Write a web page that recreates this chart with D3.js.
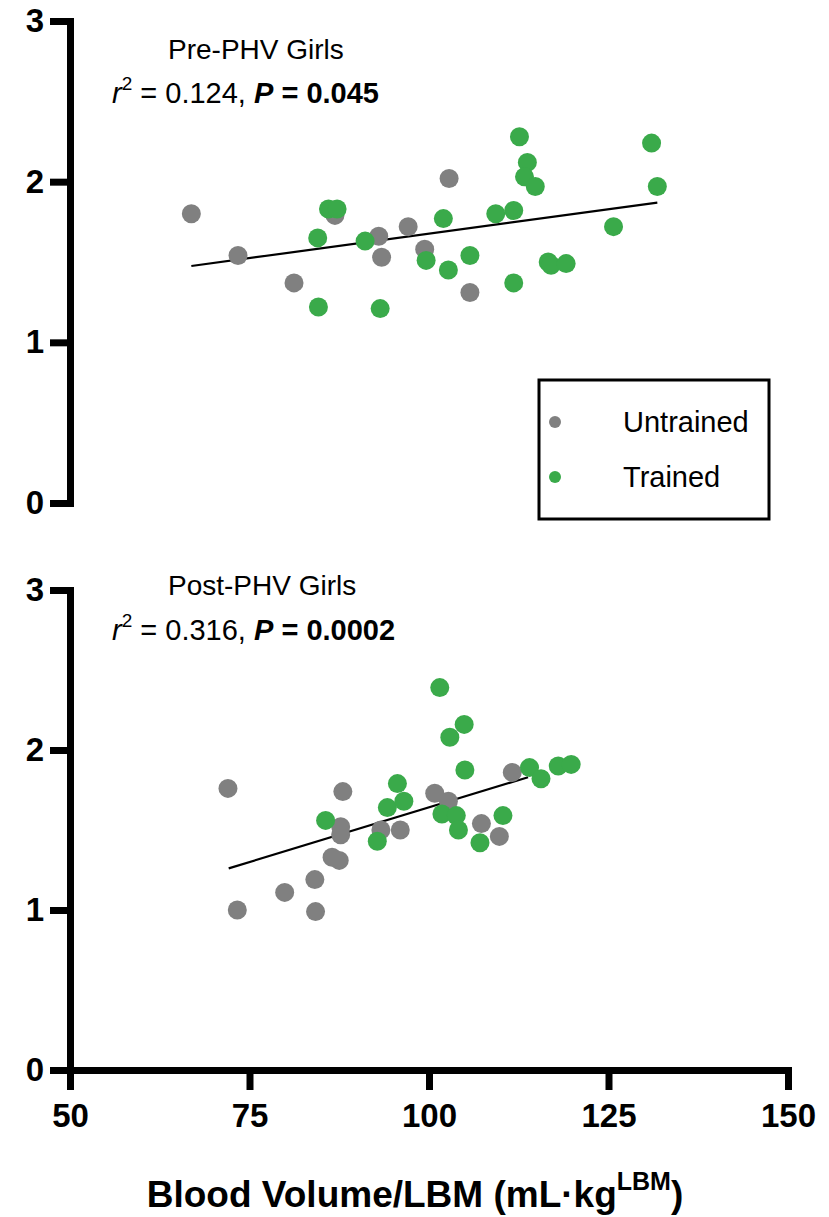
<!DOCTYPE html>
<html>
<head>
<meta charset="utf-8">
<script src="https://cdn.jsdelivr.net/npm/d3@7"></script>
<style>
  body { margin: 0; background: #fff; }
  text { font-family: "Liberation Sans", Arial, sans-serif; }
</style>
</head>
<body>
<div id="chart"></div>
<script>
// Pre-PHV girls: [blood volume/LBM, y value]
const preUntrained = [
  [66.9, 1.80], [73.4, 1.54], [81.2, 1.37], [86.9, 1.79], [93.0, 1.66],
  [93.4, 1.53], [97.1, 1.72], [99.4, 1.58], [102.8, 2.02], [105.7, 1.31]
];
const preTrained = [
  [84.6, 1.22], [84.5, 1.65], [86.0, 1.83], [87.2, 1.83], [91.1, 1.63],
  [93.2, 1.21], [99.6, 1.51], [102.0, 1.77], [102.7, 1.45], [105.7, 1.54],
  [109.3, 1.80], [111.8, 1.82], [111.8, 1.37], [112.6, 2.28], [113.7, 2.12],
  [113.3, 2.03], [114.8, 1.97], [116.6, 1.50], [117.0, 1.48], [119.1, 1.49],
  [125.7, 1.72], [131.0, 2.24], [131.8, 1.97]
];
const preFit = [[66.9, 1.475], [131.8, 1.87]];

// Post-PHV girls
const postUntrained = [
  [72.0, 1.76], [73.3, 1.00], [79.9, 1.11], [84.1, 1.19], [84.2, 0.99],
  [86.5, 1.33], [87.5, 1.31], [87.7, 1.52], [87.7, 1.47], [88.0, 1.74],
  [93.3, 1.50], [96.0, 1.50], [100.8, 1.73], [102.7, 1.68], [107.3, 1.54],
  [109.8, 1.46], [111.6, 1.86]
];
const postTrained = [
  [85.6, 1.56], [92.8, 1.43], [94.2, 1.64], [95.6, 1.79], [96.5, 1.68],
  [101.5, 2.39], [102.9, 2.08], [104.9, 2.16], [105.0, 1.875], [101.8, 1.60],
  [103.8, 1.59], [104.1, 1.50], [107.1, 1.42], [110.3, 1.59], [114.0, 1.89],
  [115.6, 1.82], [118.0, 1.90], [119.8, 1.91]
];
const postFit = [[72.1, 1.26], [113.8, 1.83]];

const xTicks = [50, 75, 100, 125, 150];
const yTicks = [0, 1, 2, 3];
const legendLabels = ["Untrained", "Trained"];

const width = 829;
const height = 1217;
const grey = "#808080";
const green = "#3aaa4a";

const svg = d3
  .select("#chart")
  .append("svg")
  .attr("width", width)
  .attr("height", height);

const x = d3.scaleLinear().domain([50, 150]).range([70, 788]);

function styleTickText(g) {
  g.selectAll(".tick text")
    .attr("font-size", 33)
    .attr("font-weight", "bold")
    .attr("fill", "#000")
    .attr("font-family", "'Liberation Sans', Arial, sans-serif");
}

function drawPanel(top, bottom, untrained, trained, fit, title, r2, p, titleY, statY) {
  const y = d3.scaleLinear().domain([0, 3]).range([bottom, top]);

  const yAxis = svg
    .append("g")
    .attr("transform", "translate(70,0)")
    .call(
      d3.axisLeft(y).tickValues(yTicks).tickFormat(d3.format("d"))
        .tickSize(20).tickSizeOuter(0).tickPadding(6)
    );
  yAxis.select(".domain").attr("stroke-width", 7).attr("stroke-linecap", "square");
  yAxis.selectAll(".tick line").attr("stroke-width", 7);
  styleTickText(yAxis);

  svg.append("line")
    .attr("x1", x(fit[0][0])).attr("y1", y(fit[0][1]))
    .attr("x2", x(fit[1][0])).attr("y2", y(fit[1][1]))
    .attr("stroke", "#000")
    .attr("stroke-width", 2.2);

  svg.append("g")
    .selectAll("circle")
    .data(untrained)
    .enter()
    .append("circle")
    .attr("cx", (d) => x(d[0]))
    .attr("cy", (d) => y(d[1]))
    .attr("r", 9.5)
    .attr("fill", grey);

  svg.append("g")
    .selectAll("circle")
    .data(trained)
    .enter()
    .append("circle")
    .attr("cx", (d) => x(d[0]))
    .attr("cy", (d) => y(d[1]))
    .attr("r", 9.5)
    .attr("fill", green);

  svg.append("text")
    .attr("x", 168)
    .attr("y", titleY)
    .attr("font-size", 28)
    .text(title);

  const stat = svg.append("text")
    .attr("x", 112)
    .attr("y", statY)
    .attr("font-size", 29);
  stat.append("tspan").attr("font-style", "italic").text("r");
  stat.append("tspan").attr("font-size", 19).attr("dy", -13).text("2");
  stat.append("tspan").attr("dy", 13).text(" = " + r2 + ", ");
  stat.append("tspan").attr("font-weight", "bold").attr("font-style", "italic").text("P");
  stat.append("tspan").attr("font-weight", "bold").text(" = " + p);

  return y;
}

drawPanel(21, 503, preUntrained, preTrained, preFit, "Pre-PHV Girls", "0.124", "0.045", 59, 103);
drawPanel(590, 1070, postUntrained, postTrained, postFit, "Post-PHV Girls", "0.316", "0.0002", 595, 640);

// x axis on the bottom panel
const xAxis = svg
  .append("g")
  .attr("transform", "translate(0,1070)")
  .call(d3.axisBottom(x).tickValues(xTicks).tickSize(20).tickSizeOuter(0).tickPadding(14));
xAxis.select(".domain").attr("stroke-width", 7).attr("stroke-linecap", "square");
xAxis.selectAll(".tick line").attr("stroke-width", 7);
styleTickText(xAxis);

const xTitle = svg.append("text")
  .attr("x", 415)
  .attr("y", 1207)
  .attr("text-anchor", "middle")
  .attr("font-size", 37)
  .attr("font-weight", "bold");
xTitle.append("tspan").text("Blood Volume/LBM (mL\u00b7kg");
xTitle.append("tspan").attr("font-size", 25).attr("dy", -17).text("LBM");
xTitle.append("tspan").attr("dy", 17).text(")");

// legend
const legend = svg.append("g");
legend.append("rect")
  .attr("x", 539).attr("y", 380)
  .attr("width", 230).attr("height", 139)
  .attr("fill", "none")
  .attr("stroke", "#000")
  .attr("stroke-width", 3);
legend.selectAll("circle")
  .data(legendLabels)
  .enter()
  .append("circle")
  .attr("cx", 555)
  .attr("cy", (d, i) => 422 + i * 55)
  .attr("r", 6)
  .attr("fill", (d, i) => (i === 0 ? grey : green));
legend.selectAll("text")
  .data(legendLabels)
  .enter()
  .append("text")
  .attr("x", 623)
  .attr("y", (d, i) => 432 + i * 55)
  .attr("font-size", 29)
  .text((d) => d);
</script>
</body>
</html>
